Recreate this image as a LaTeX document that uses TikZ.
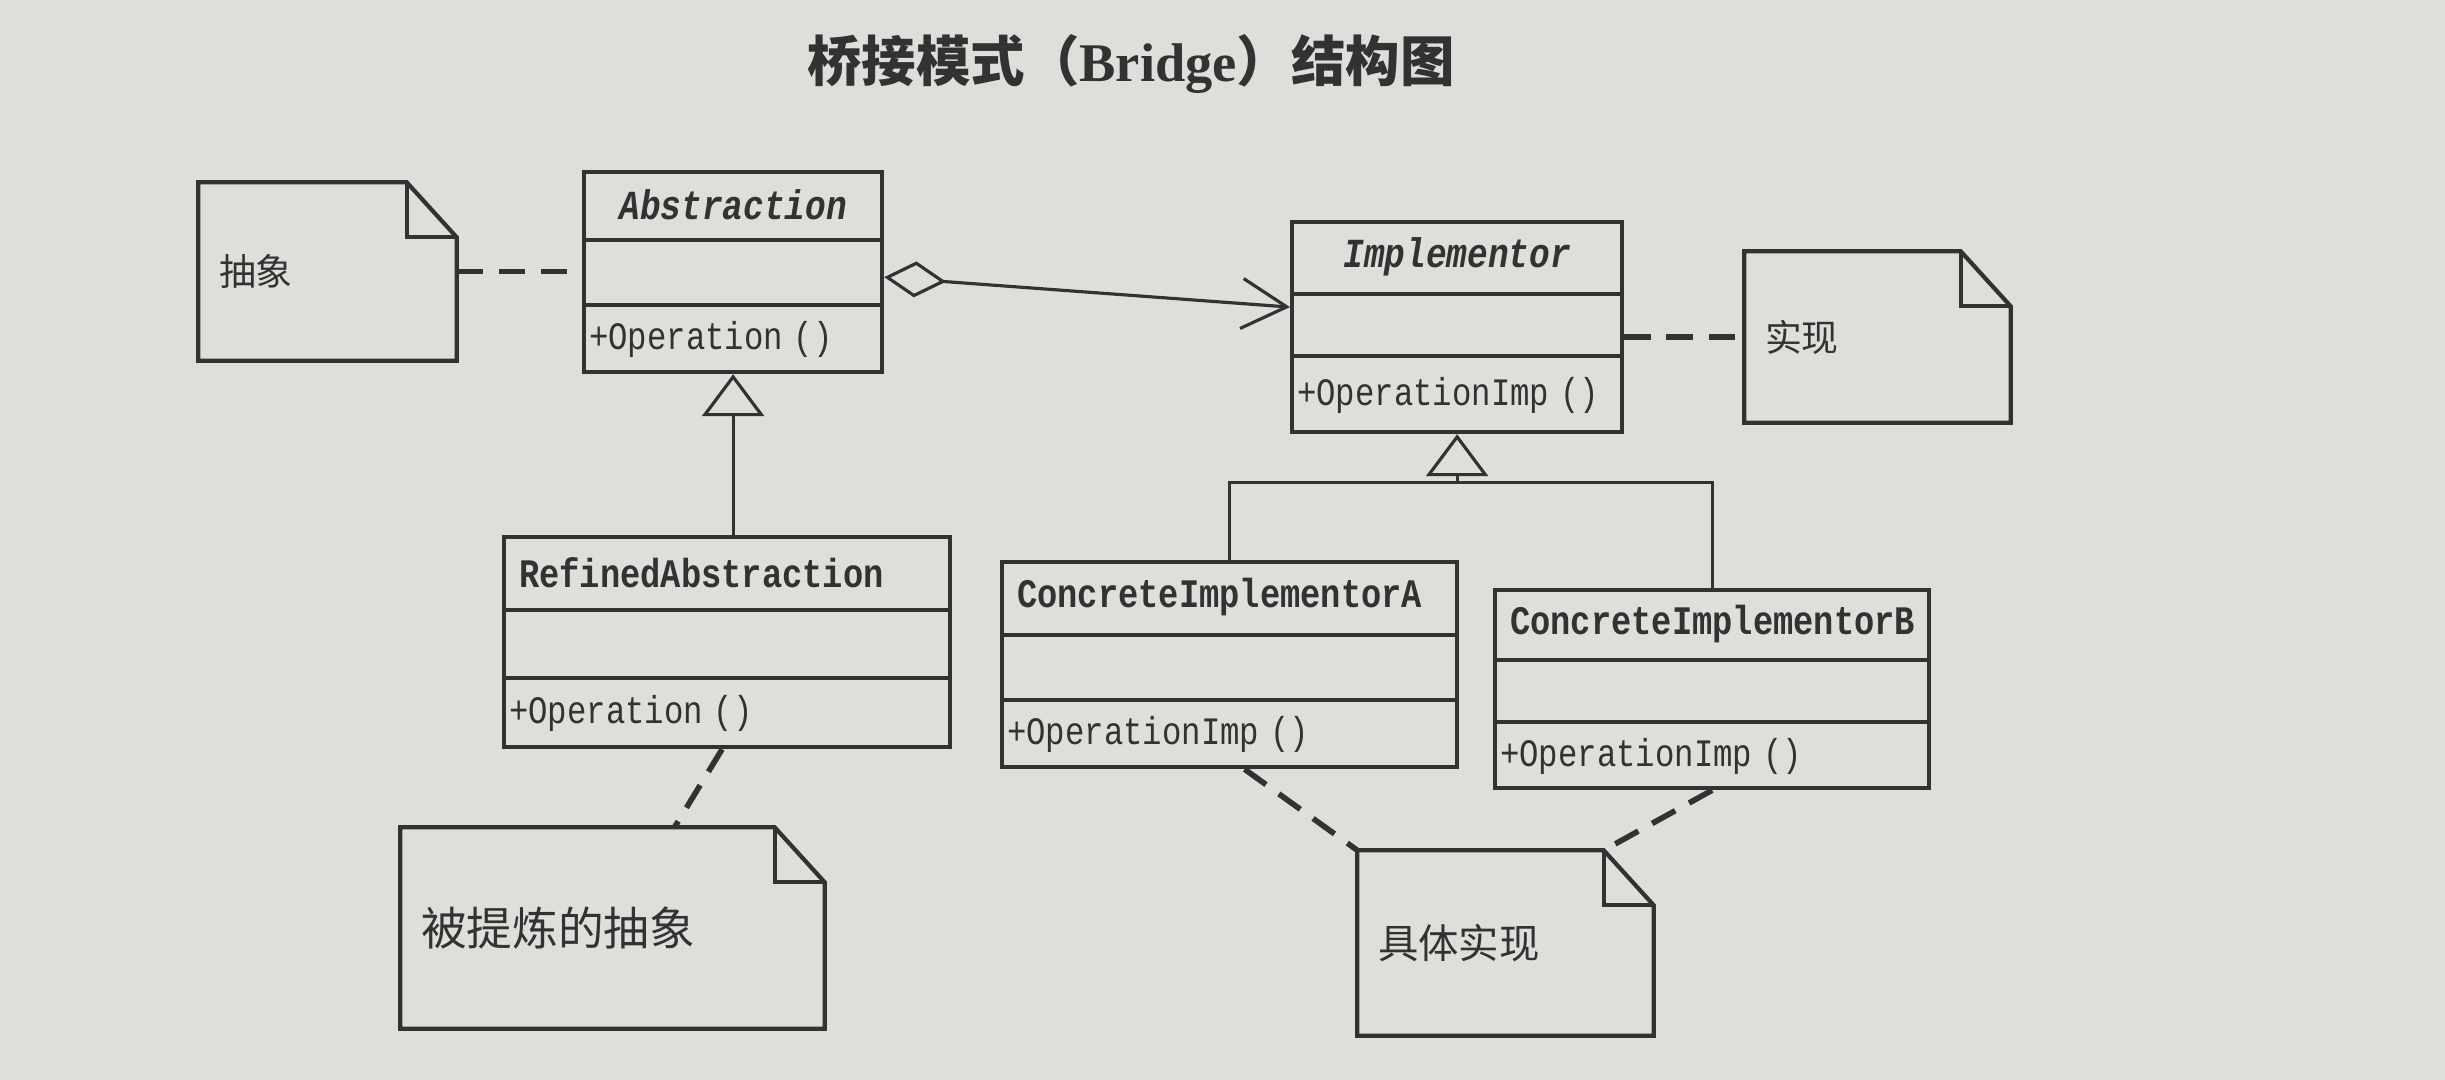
\documentclass[tikz,border=0pt]{standalone}
\usepackage{fontspec}
\usepackage{graphicx}
\usetikzlibrary{arrows.meta,calc}

\newfontfamily\monofont[HyphenChar=None]{Liberation Mono}
\newfontfamily\cjkfont{Noto Sans CJK SC}
\newfontfamily\titlerm{Liberation Serif}

\definecolor{paper}{RGB}{222,223,219}
\definecolor{ink}{RGB}{50,50,50}

\newcommand{\tallmono}[1]{\scalebox{1}[1.2]{#1}}

\tikzset{
  classbox/.style={draw=ink, line width=1.2pt, inner sep=0pt},
  classline/.style={draw=ink, line width=1.2pt},
  absname/.style={align=center, font=\monofont\bfseries\itshape\fontsize{9.8}{12}\selectfont},
  conname/.style={align=left, font=\monofont\bfseries\fontsize{9.6}{12}\selectfont},
  opname/.style={align=left, font=\monofont\fontsize{9.2}{11}\selectfont, inner xsep=0.05cm},
  notebox/.style={inner xsep=0.2cm, align=left, text=ink},
  notelink/.style={draw=ink, line width=1.6pt, dash pattern=on 7.5pt off 4.5pt},
  genline/.style={draw=ink, line width=0.9pt},
  gen/.style={genline, -{Triangle[open, length=0.42cm, width=0.62cm]}},
  agg/.style={genline, {Diamond[open, length=0.62cm, width=0.36cm]}-{Straight Barb[length=0.45cm, width=0.5cm]}}
}

% class: [name style]{node}{nw corner}{width}{height}{1st rule}{2nd rule}{name}{operation}
\newcommand{\umlclass}[9][conname]{%
  \pgfmathsetmacro{\tw}{#4-0.30}\pgfmathsetmacro{\ow}{#4-0.1}
  \node[classbox, anchor=north west, minimum width=#4cm, minimum height=#5cm] (#2) at (#3) {};
  \draw[classline] ([yshift=-#6cm]#2.north west) -- ([yshift=-#6cm]#2.north east);
  \draw[classline] ([yshift=-#7cm]#2.north west) -- ([yshift=-#7cm]#2.north east);
  \node[#1, text=ink, text width=\tw cm, inner xsep=0.15cm] (#2-name) at ($(#2.north)!0.5!([yshift=-#6cm]#2.north)$) {\tallmono{#8}};
  \node[opname, text=ink, text width=\ow cm] (#2-op) at ($([yshift=-#7cm]#2.north)!0.5!(#2.south)$) {\tallmono{#9}};
}

% note: node, centre, width, height, font size, text
\newcommand{\umlnote}[6]{%
  \pgfmathsetmacro{\tw}{#3-0.4}
  \node[notebox, text width=\tw cm, minimum height=#4cm, font=\cjkfont\fontsize{#5}{#5}\selectfont] (#1) at (#2) {#6};
  \draw[classline] (#1.north west) -- ([xshift=-0.5cm]#1.north east) -- ([yshift=-0.55cm]#1.north east) -- (#1.south east) -- (#1.south west) -- cycle;
  \draw[classline] ([xshift=-0.5cm]#1.north east) |- ([yshift=-0.55cm]#1.north east);
}

\begin{document}
\begin{tikzpicture}

\fill[paper] (0,0) rectangle (24.45,-10.8);
\useasboundingbox (0,0) rectangle (24.45,-10.8);

\node[text=ink, font=\cjkfont\bfseries\fontsize{15.5}{18}\selectfont] (title) at (11.31,-0.64) {桥接模式（{\titlerm\bfseries Bridge}）结构图};

% classes
\umlclass[absname]{abs}{5.82,-1.70}{2.98}{2.00}{0.70}{1.35}{Abstraction}{+Operation ()}
\umlclass[absname]{impl}{12.90,-2.20}{3.30}{2.10}{0.74}{1.36}{Implementor}{+OperationImp ()}
\umlclass{refined}{5.02,-5.35}{4.46}{2.10}{0.75}{1.43}{RefinedAbstraction}{+Operation ()}
\umlclass{cia}{10.00,-5.60}{4.55}{2.05}{0.75}{1.40}{ConcreteImplementorA}{+OperationImp ()}
\umlclass{cib}{14.93,-5.88}{4.34}{1.98}{0.72}{1.34}{ConcreteImplementorB}{+OperationImp ()}

% notes
\umlnote{abnote}{3.275,-2.715}{2.57}{1.77}{10.5}{抽象}
\umlnote{imnote}{18.775,-3.37}{2.65}{1.70}{10.5}{实现}
\umlnote{ranote}{6.125,-9.28}{4.23}{2.00}{13}{被提炼的抽象}
\umlnote{cinote}{15.055,-9.43}{2.95}{1.84}{11.5}{具体实现}

% inheritance and aggregation
\draw[gen] (abs.south |- refined.north) -- (abs.south);
\coordinate (fork) at ($(impl.south)+(0,-0.48)$);
\draw[genline] (cia.north) |- (fork) -| (cib.north);
\draw[gen] (fork) -- (impl.south);
\draw[agg] ([yshift=-0.05cm]abs.east) -- ([yshift=0.2cm]impl.west);

% note links
\draw[notelink] (abnote.east) -- (abnote.east -| abs.west);
\draw[notelink] (imnote.west -| impl.east) -- (imnote.west);
\draw[notelink] ([xshift=-0.05cm]refined.south) -- ([xshift=0.62cm]ranote.north);
\draw[notelink] ([xshift=0.15cm]cia.south) -- (cinote.north west);
\draw[notelink] (cib.south) -- ([xshift=-0.5cm]cinote.north east);

\end{tikzpicture}
\end{document}
